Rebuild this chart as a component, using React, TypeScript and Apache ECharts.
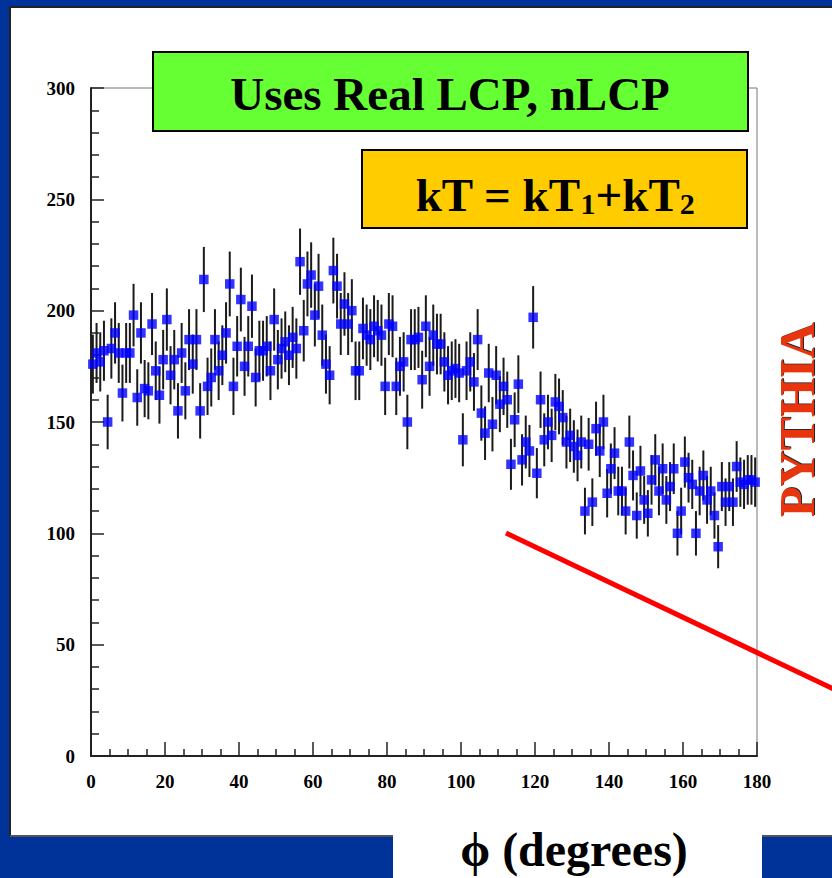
import { useEffect, useRef } from 'react';
import * as echarts from 'echarts';

// Azimuthal angle histogram, 1-degree bins from 0 to 180
const BIN_WIDTH = 1;
const BIN_COUNT = 180;
const binCenters = Array.from({ length: BIN_COUNT }, (_, i) => (i + 0.5) * BIN_WIDTH);

// Entries per bin
const counts = [
  176, 181, 177, 182, 150, 183, 190, 181, 163, 181,
  181, 198, 161, 190, 165, 164, 194, 173, 162, 178,
  196, 171, 178, 155, 181, 164, 187, 176, 187, 155,
  214, 166, 170, 187, 173, 180, 190, 212, 166, 184,
  205, 175, 184, 202, 170, 182, 182, 184, 173, 196,
  178, 183, 186, 180, 188, 183, 222, 191, 212, 216,
  198, 211, 189, 176, 171, 218, 211, 194, 203, 194,
  200, 173, 173, 192, 189, 187, 193, 191, 189, 166,
  194, 193, 166, 175, 177, 150, 187, 187, 188, 169,
  193, 175, 189, 185, 185, 177, 171, 173, 174, 172,
  142, 173, 177, 168, 187, 154, 145, 172, 149, 171,
  158, 166, 160, 131, 151, 167, 133, 141, 137, 197,
  127, 160, 142, 150, 144, 159, 157, 152, 141, 144,
  139, 135, 141, 110, 140, 114, 147, 137, 150, 118,
  129, 136, 119, 119, 110, 141, 126, 108, 128, 115,
  109, 124, 133, 119, 129, 115, 121, 129, 100, 110,
  132, 125, 122, 100, 119, 126, 115, 119, 108, 94,
  121, 114, 121, 114, 130, 123, 122, 124, 124, 123,
];

const xTicks = { min: 0, max: 180, step: 20 };
const yTicks = { min: 0, max: 300, step: 50 };

const TITLE_TEXT = 'Uses Real LCP, nLCP';
const GENERATOR_TEXT = 'PYTHIA';
const X_TITLE = 'ϕ (degrees)';

const SERIF = "'Liberation Serif', 'Times New Roman', 'DejaVu Serif', serif";

export default function App() {
  const ref = useRef<HTMLDivElement | null>(null);

  useEffect(() => {
    if (!ref.current) return;
    const chart = echarts.init(ref.current, undefined, { renderer: 'svg' });

    const points = binCenters.map((x, i) => [x, counts[i]]);
    // Poisson uncertainty on each bin count
    const errorBars = binCenters.map((x, i) => {
      const e = Math.sqrt(counts[i]);
      return [x, counts[i] - e, counts[i] + e];
    });

    const axisText = {
      fontFamily: SERIF,
      fontWeight: 'bold' as const,
      fontSize: 19,
      color: '#000',
    };

    chart.setOption({
      animation: false,
      backgroundColor: '#ffffff',
      grid: {
        left: 91,
        top: 88,
        width: 666,
        height: 668,
        show: true,
        borderColor: '#777',
        borderWidth: 1,
        backgroundColor: 'transparent',
      },
      xAxis: {
        type: 'value',
        min: xTicks.min,
        max: xTicks.max,
        interval: xTicks.step,
        axisLine: { show: true, lineStyle: { color: '#222', width: 2 } },
        axisTick: { show: true, inside: true, length: 14, lineStyle: { color: '#222', width: 1.5 } },
        minorTick: { show: true, splitNumber: 4, length: 7, lineStyle: { color: '#222', width: 1.5 } },
        splitLine: { show: false },
        axisLabel: { ...axisText, margin: 16 },
      },
      yAxis: {
        type: 'value',
        min: yTicks.min,
        max: yTicks.max,
        interval: yTicks.step,
        axisLine: { show: true, lineStyle: { color: '#222', width: 2 } },
        axisTick: { show: true, inside: true, length: 13, lineStyle: { color: '#222', width: 1.5 } },
        minorTick: { show: true, splitNumber: 5, length: 8, lineStyle: { color: '#222', width: 1.5 } },
        splitLine: { show: false },
        axisLabel: { ...axisText, margin: 16 },
      },
      series: [
        {
          type: 'custom',
          name: 'errors',
          data: errorBars,
          encode: { x: 0, y: [1, 2] },
          z: 3,
          renderItem: (_params: any, api: any) => {
            const x = api.value(0);
            const lo = api.coord([x, api.value(1)]);
            const hi = api.coord([x, api.value(2)]);
            return {
              type: 'line',
              shape: { x1: lo[0], y1: lo[1], x2: hi[0], y2: hi[1] },
              style: { stroke: '#1a1a1a', lineWidth: 2 },
            };
          },
        },
        {
          type: 'scatter',
          name: 'counts',
          data: points,
          symbol: 'rect',
          symbolSize: 9.5,
          itemStyle: { color: '#0000ff' },
          z: 4,
        },
      ],
      graphic: [
        // slide frame
        { type: 'rect', z: 50, shape: { x: 0, y: 0, width: 832, height: 7 }, style: { fill: '#003399' } },
        { type: 'rect', z: 50, shape: { x: 0, y: 0, width: 10, height: 878 }, style: { fill: '#003399' } },
        { type: 'rect', z: 50, shape: { x: 0, y: 836, width: 393, height: 42 }, style: { fill: '#003399' } },
        { type: 'rect', z: 50, shape: { x: 762, y: 836, width: 70, height: 42 }, style: { fill: '#003399' } },
        { type: 'line', z: 51, shape: { x1: 10, y1: 7, x2: 832, y2: 7 }, style: { stroke: '#222', lineWidth: 2 } },
        { type: 'line', z: 51, shape: { x1: 10, y1: 7, x2: 10, y2: 836 }, style: { stroke: '#222', lineWidth: 2 } },
        { type: 'line', z: 51, shape: { x1: 10, y1: 836, x2: 393, y2: 836 }, style: { stroke: '#555', lineWidth: 2 } },
        { type: 'line', z: 51, shape: { x1: 762, y1: 836, x2: 832, y2: 836 }, style: { stroke: '#555', lineWidth: 2 } },
        // title boxes
        {
          type: 'rect', z: 60,
          shape: { x: 153, y: 52, width: 595, height: 79 },
          style: { fill: '#66ff33', stroke: '#000', lineWidth: 2 },
        },
        {
          type: 'text', z: 61, x: 450, y: 94,
          style: {
            text: TITLE_TEXT, fill: '#000', font: `bold 47px ${SERIF}`,
            align: 'center', verticalAlign: 'middle',
          },
        },
        {
          type: 'rect', z: 60,
          shape: { x: 362, y: 150, width: 385, height: 78 },
          style: { fill: '#ffcc00', stroke: '#000', lineWidth: 2 },
        },
        {
          type: 'text', z: 61, x: 555, y: 192,
          style: {
            text: '{m|kT = kT}{s|1}{m|+kT}{s|2}',
            fill: '#000',
            align: 'center',
            verticalAlign: 'middle',
            rich: {
              m: { fontFamily: SERIF, fontWeight: 'bold', fontSize: 47, lineHeight: 52, verticalAlign: 'bottom' },
              s: { fontFamily: SERIF, fontWeight: 'bold', fontSize: 30, lineHeight: 24, verticalAlign: 'bottom' },
            },
          },
        },
        {
          type: 'text', z: 61, x: 797, y: 420, rotation: Math.PI / 2,
          style: {
            text: GENERATOR_TEXT, fill: '#e83410', font: `bold 50px ${SERIF}`,
            align: 'center', verticalAlign: 'middle',
            textShadowColor: 'rgba(0,0,0,0.85)', textShadowBlur: 1, textShadowOffsetX: 1, textShadowOffsetY: 1,
          },
        },
        {
          type: 'line', z: 62,
          shape: { x1: 506, y1: 533, x2: 842, y2: 693 },
          style: { stroke: '#ff0000', lineWidth: 5 },
        },
        {
          type: 'rect', z: 55,
          shape: { x: 393, y: 836, width: 369, height: 42 },
          style: { fill: '#ffffff' },
        },
        {
          type: 'text', z: 61, x: 574, y: 849,
          style: {
            text: X_TITLE, fill: '#000', font: `bold 48px ${SERIF}`,
            align: 'center', verticalAlign: 'middle',
          },
        },
      ],
    });

    return () => chart.dispose();
  }, []);

  return (
    <div
      ref={ref}
      style={{ position: 'absolute', left: 0, top: 0, width: 832, height: 878 }}
    />
  );
}
